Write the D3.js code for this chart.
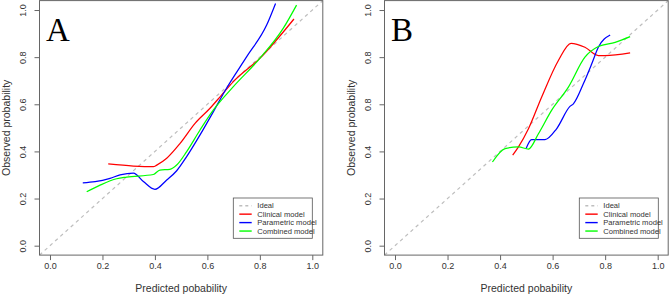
<!DOCTYPE html>
<html><head><meta charset="utf-8">
<script src="https://cdn.jsdelivr.net/npm/d3@7"></script>
<style>body{margin:0;background:#fff}svg{display:block}</style>
</head><body>
<script>
const ticks = [0, 0.2, 0.4, 0.6, 0.8, 1.0];
const tickLabels = ["0.0", "0.2", "0.4", "0.6", "0.8", "1.0"];
const yTickLabelsA = ["0.0", "0.2", "0.4", "0.6", "0.8", "1.0"];
const yTickLabelsB = ["0.0", "0.2", "0.4", "0.8", "0.8", "1.0"];
const seriesNames = ["Ideal", "Clinical model", "Parametric model", "Combined model"];
const seriesColors = ["#bebebe", "#ff0000", "#0000ff", "#00ff00"];

// Panel A
const aClinical = [[0.222,0.347],[0.318,0.338],[0.394,0.335],[0.407,0.342],[0.445,0.371],[0.496,0.434],[0.553,0.519],[0.610,0.583],[0.654,0.639],[0.699,0.696],[0.800,0.795],[0.930,0.962]];
const aParametric = [[0.125,0.267],[0.172,0.272],[0.229,0.286],[0.267,0.300],[0.318,0.308],[0.356,0.272],[0.400,0.239],[0.445,0.279],[0.483,0.318],[0.521,0.378],[0.572,0.470],[0.623,0.569],[0.673,0.668],[0.750,0.802],[0.826,0.936],[0.860,1.028]];
const aCombined = [[0.140,0.229],[0.191,0.257],[0.254,0.284],[0.292,0.291],[0.394,0.302],[0.419,0.321],[0.457,0.324],[0.483,0.342],[0.521,0.399],[0.572,0.491],[0.623,0.576],[0.699,0.675],[0.800,0.795],[0.889,0.922],[0.940,1.021]];
// Panel B
const bClinical = [[0.448,0.384],[0.470,0.419],[0.508,0.496],[0.558,0.630],[0.622,0.786],[0.670,0.859],[0.723,0.842],[0.774,0.807],[0.799,0.807],[0.895,0.818]];
const bParametric = [[0.499,0.412],[0.520,0.450],[0.571,0.450],[0.615,0.496],[0.666,0.591],[0.679,0.602],[0.717,0.687],[0.749,0.772],[0.774,0.842],[0.819,0.894]];
const bCombined = [[0.371,0.355],[0.419,0.412],[0.470,0.419],[0.508,0.410],[0.546,0.475],[0.596,0.574],[0.660,0.673],[0.723,0.800],[0.774,0.845],[0.838,0.863],[0.895,0.887]];

const panels = [
  {label:"A", x0:39.5, x1:322.8, series:[aClinical,aParametric,aCombined], legendX:233.3, yLabels:yTickLabelsA},
  {label:"B", x0:384.5, x1:668.2, series:[bClinical,bParametric,bCombined], legendX:579.3, yLabels:yTickLabelsB}
];
const yTop = 0.6, yBot = 255.1;

const svg = d3.select("body").append("svg").attr("width",669).attr("height",295);
const font = "'Liberation Sans', Arial, sans-serif";
const txtCol = "#333";

panels.forEach((p,pi) => {
  const x = d3.scaleLinear().domain([-0.04,1.04]).range([p.x0,p.x1]);
  const y = d3.scaleLinear().domain([-0.04,1.04]).range([yBot,yTop]);
  const g = svg.append("g");
  const clipId = "clip"+pi;
  svg.append("clipPath").attr("id",clipId).append("rect")
    .attr("x",p.x0).attr("y",yTop).attr("width",p.x1-p.x0).attr("height",yBot-yTop);

  // ideal line
  g.append("line").attr("clip-path",`url(#${clipId})`)
    .attr("x1",x(-0.04)).attr("y1",y(-0.04)).attr("x2",x(1.04)).attr("y2",y(1.04))
    .attr("stroke",seriesColors[0]).attr("stroke-width",1.2).attr("stroke-dasharray","3.5,3.5");

  const line = d3.line().x(d=>x(d[0])).y(d=>y(d[1])).curve(d3.curveMonotoneX);
  p.series.forEach((s,i) => {
    g.append("path").datum(s).attr("d",line).attr("clip-path",`url(#${clipId})`)
      .attr("fill","none").attr("stroke",seriesColors[i+1]).attr("stroke-width",1.25);
  });

  // box
  g.append("rect").attr("x",p.x0).attr("y",yTop).attr("width",p.x1-p.x0).attr("height",yBot-yTop)
    .attr("fill","none").attr("stroke","#666").attr("stroke-width",1);

  // x axis
  const xa = g.append("g").attr("transform",`translate(0,${yBot})`)
    .call(d3.axisBottom(x).tickValues(ticks).tickFormat((d,i)=>tickLabels[i]).tickSize(5).tickPadding(3));
  xa.select(".domain").remove();
  xa.selectAll("line").attr("stroke","#666");
  xa.selectAll("text").attr("font-family",font).attr("font-size",9).attr("fill",txtCol);

  // y axis
  const ya = g.append("g").attr("transform",`translate(${p.x0},0)`)
    .call(d3.axisLeft(y).tickValues(ticks).tickFormat((d,i)=>p.yLabels[i]).tickSize(5));
  ya.select(".domain").remove();
  ya.selectAll("line").attr("stroke","#666");
  ya.selectAll("text").attr("font-family",font).attr("font-size",9).attr("fill",txtCol)
    .attr("x",null).attr("dy",null)
    .attr("text-anchor","middle")
    .attr("transform","translate(-14,0) rotate(-90)");

  // titles
  g.append("text").attr("x",(x(0)+x(1))/2).attr("y",292).attr("text-anchor","middle")
    .attr("font-family",font).attr("font-size",10.5).attr("fill",txtCol).text("Predicted pobability");
  g.append("text").attr("transform",`translate(${p.x0-30},${(y(0)+y(1))/2}) rotate(-90)`)
    .attr("text-anchor","middle").attr("font-family",font).attr("font-size",10.5).attr("fill",txtCol)
    .text("Observed probability");

  // panel letter
  g.append("text").attr("x",x(0)-4).attr("y",41).attr("font-family","'Liberation Serif', 'DejaVu Serif', serif")
    .attr("font-size",33).attr("fill","#000").text(p.label);

  // legend
  const lg = g.append("g");
  lg.append("rect").attr("x",p.legendX).attr("y",198).attr("width",79).attr("height",40.3)
    .attr("fill","#fff").attr("stroke","#555").attr("stroke-width",0.8);
  seriesNames.forEach((n,i) => {
    const yy = 205.7 + i*8.45;
    lg.append("line").attr("x1",p.legendX+6).attr("x2",p.legendX+18.4).attr("y1",yy).attr("y2",yy)
      .attr("stroke",seriesColors[i]).attr("stroke-width",1.4)
      .attr("stroke-dasharray", i===0 ? "3,3" : null);
    lg.append("text").attr("x",p.legendX+24).attr("y",yy).attr("dy","0.35em")
      .attr("font-family",font).attr("font-size",7.6).attr("fill",txtCol).text(n);
  });
});
</script>
</body></html>
